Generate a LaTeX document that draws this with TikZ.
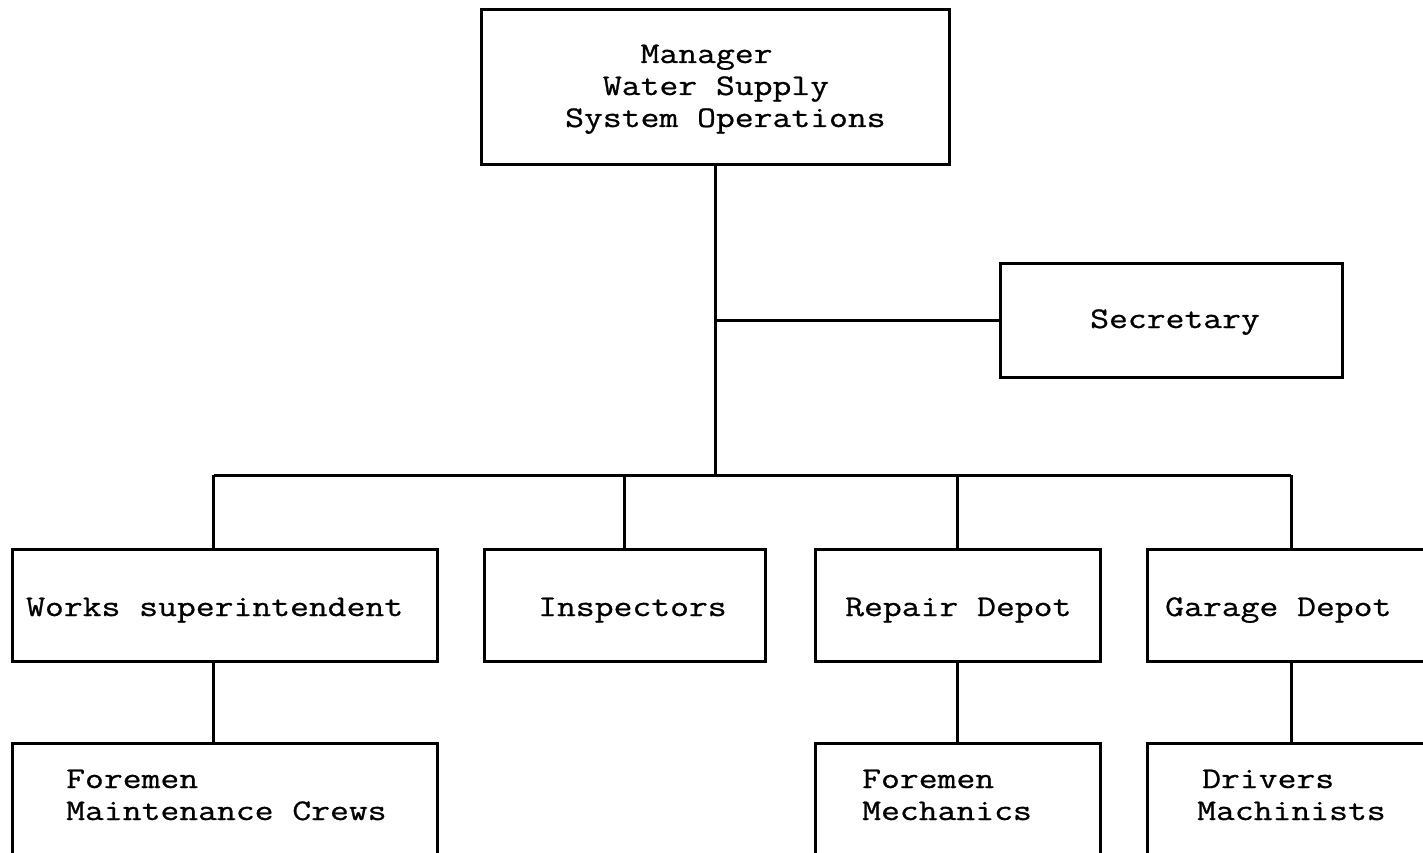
\documentclass[tikz,border=0pt]{standalone}
\usepackage{fontspec}
\newfontfamily\typewriter[FakeStretch=1.22,FakeBold=0.8]{Latin Modern Mono}
\begin{document}
\begin{tikzpicture}[x=1pt,y=-1pt,
  box/.style={draw, line width=3pt, rectangle, inner sep=0pt},
  txt/.style={font=\typewriter\fontsize{30}{32}\selectfont, inner sep=0pt,
              anchor=base west, align=left},
  wire/.style={line width=3pt}]
\useasboundingbox (0,0) rectangle (1423,853);
\fill[white] (0,0) rectangle (1423,853);
\clip (0,0) rectangle (1423,853);

% boxes
\node[box, minimum width=468pt, minimum height=155pt] (mgr)  at (715,87.5) {};
\node[box, minimum width=342pt, minimum height=114pt] (sec)  at (1171,320) {};
\node[box, minimum width=425pt, minimum height=112pt] (ws)   at (224.5,605) {};
\node[box, minimum width=281pt, minimum height=112pt] (insp) at (624.5,605) {};
\node[box, minimum width=285pt, minimum height=112pt] (rep)  at (957.5,605) {};
\node[box, minimum width=288pt, minimum height=112pt] (gar)  at (1291,605) {};
\node[box, minimum width=425pt, minimum height=140pt, anchor=north] (fmc) at (224.5,742) {};
\node[box, minimum width=285pt, minimum height=140pt, anchor=north] (fm)  at (958,742) {};
\node[box, minimum width=288pt, minimum height=140pt, anchor=north] (dm)  at (1291,742) {};

% labels (a multi-line label sits on the baseline of its last line)
\node[txt] (mgrT) at (565,127) {\hphantom{MMMM}Manager\\\hphantom{MM}Water Supply\\System Operations};
\node[txt] (secT)  at (1090,328) {Secretary};
\node[txt] (wsT)   at (26,616) {Works superintendent};
\node[txt] (inspT) at (538,616) {Inspectors};
\node[txt] (repT)  at (845,616) {Repair Depot};
\node[txt] (garT)  at (1165,616) {Garage Depot};
\node[txt] (fmcT)  at (66,820) {Foremen\\Maintenance Crews};
\node[txt] (fmT)   at (862,820) {Foremen\\Mechanics};
\node[txt] (dmT)   at (1197,820) {\hspace*{5pt}Drivers\\Machinists};

% connectors
\coordinate (hub) at (mgr.south |- 0,475);
\draw[wire] (mgr.south) -- (hub);
\draw[wire] (mgr.south |- sec.west) -- (sec.west);
\coordinate (busL) at ([xshift=-11pt]ws.north |- hub);
\coordinate (busR) at (gar.north |- hub);
\draw[wire] (busL) -- (busR);
\draw[wire] (busL) -- ([xshift=-11pt]ws.north);
\draw[wire] (insp.north |- hub) -- (insp.north);
\draw[wire] (rep.north |- hub) -- (rep.north);
\draw[wire] (busR) -- (gar.north);
\draw[wire] ([xshift=-11pt]ws.south) -- ([xshift=-11pt]ws.south |- fmc.north);
\draw[wire] (rep.south) -- (rep.south |- fm.north);
\draw[wire] (gar.south) -- (gar.south |- dm.north);
\end{tikzpicture}
\end{document}
